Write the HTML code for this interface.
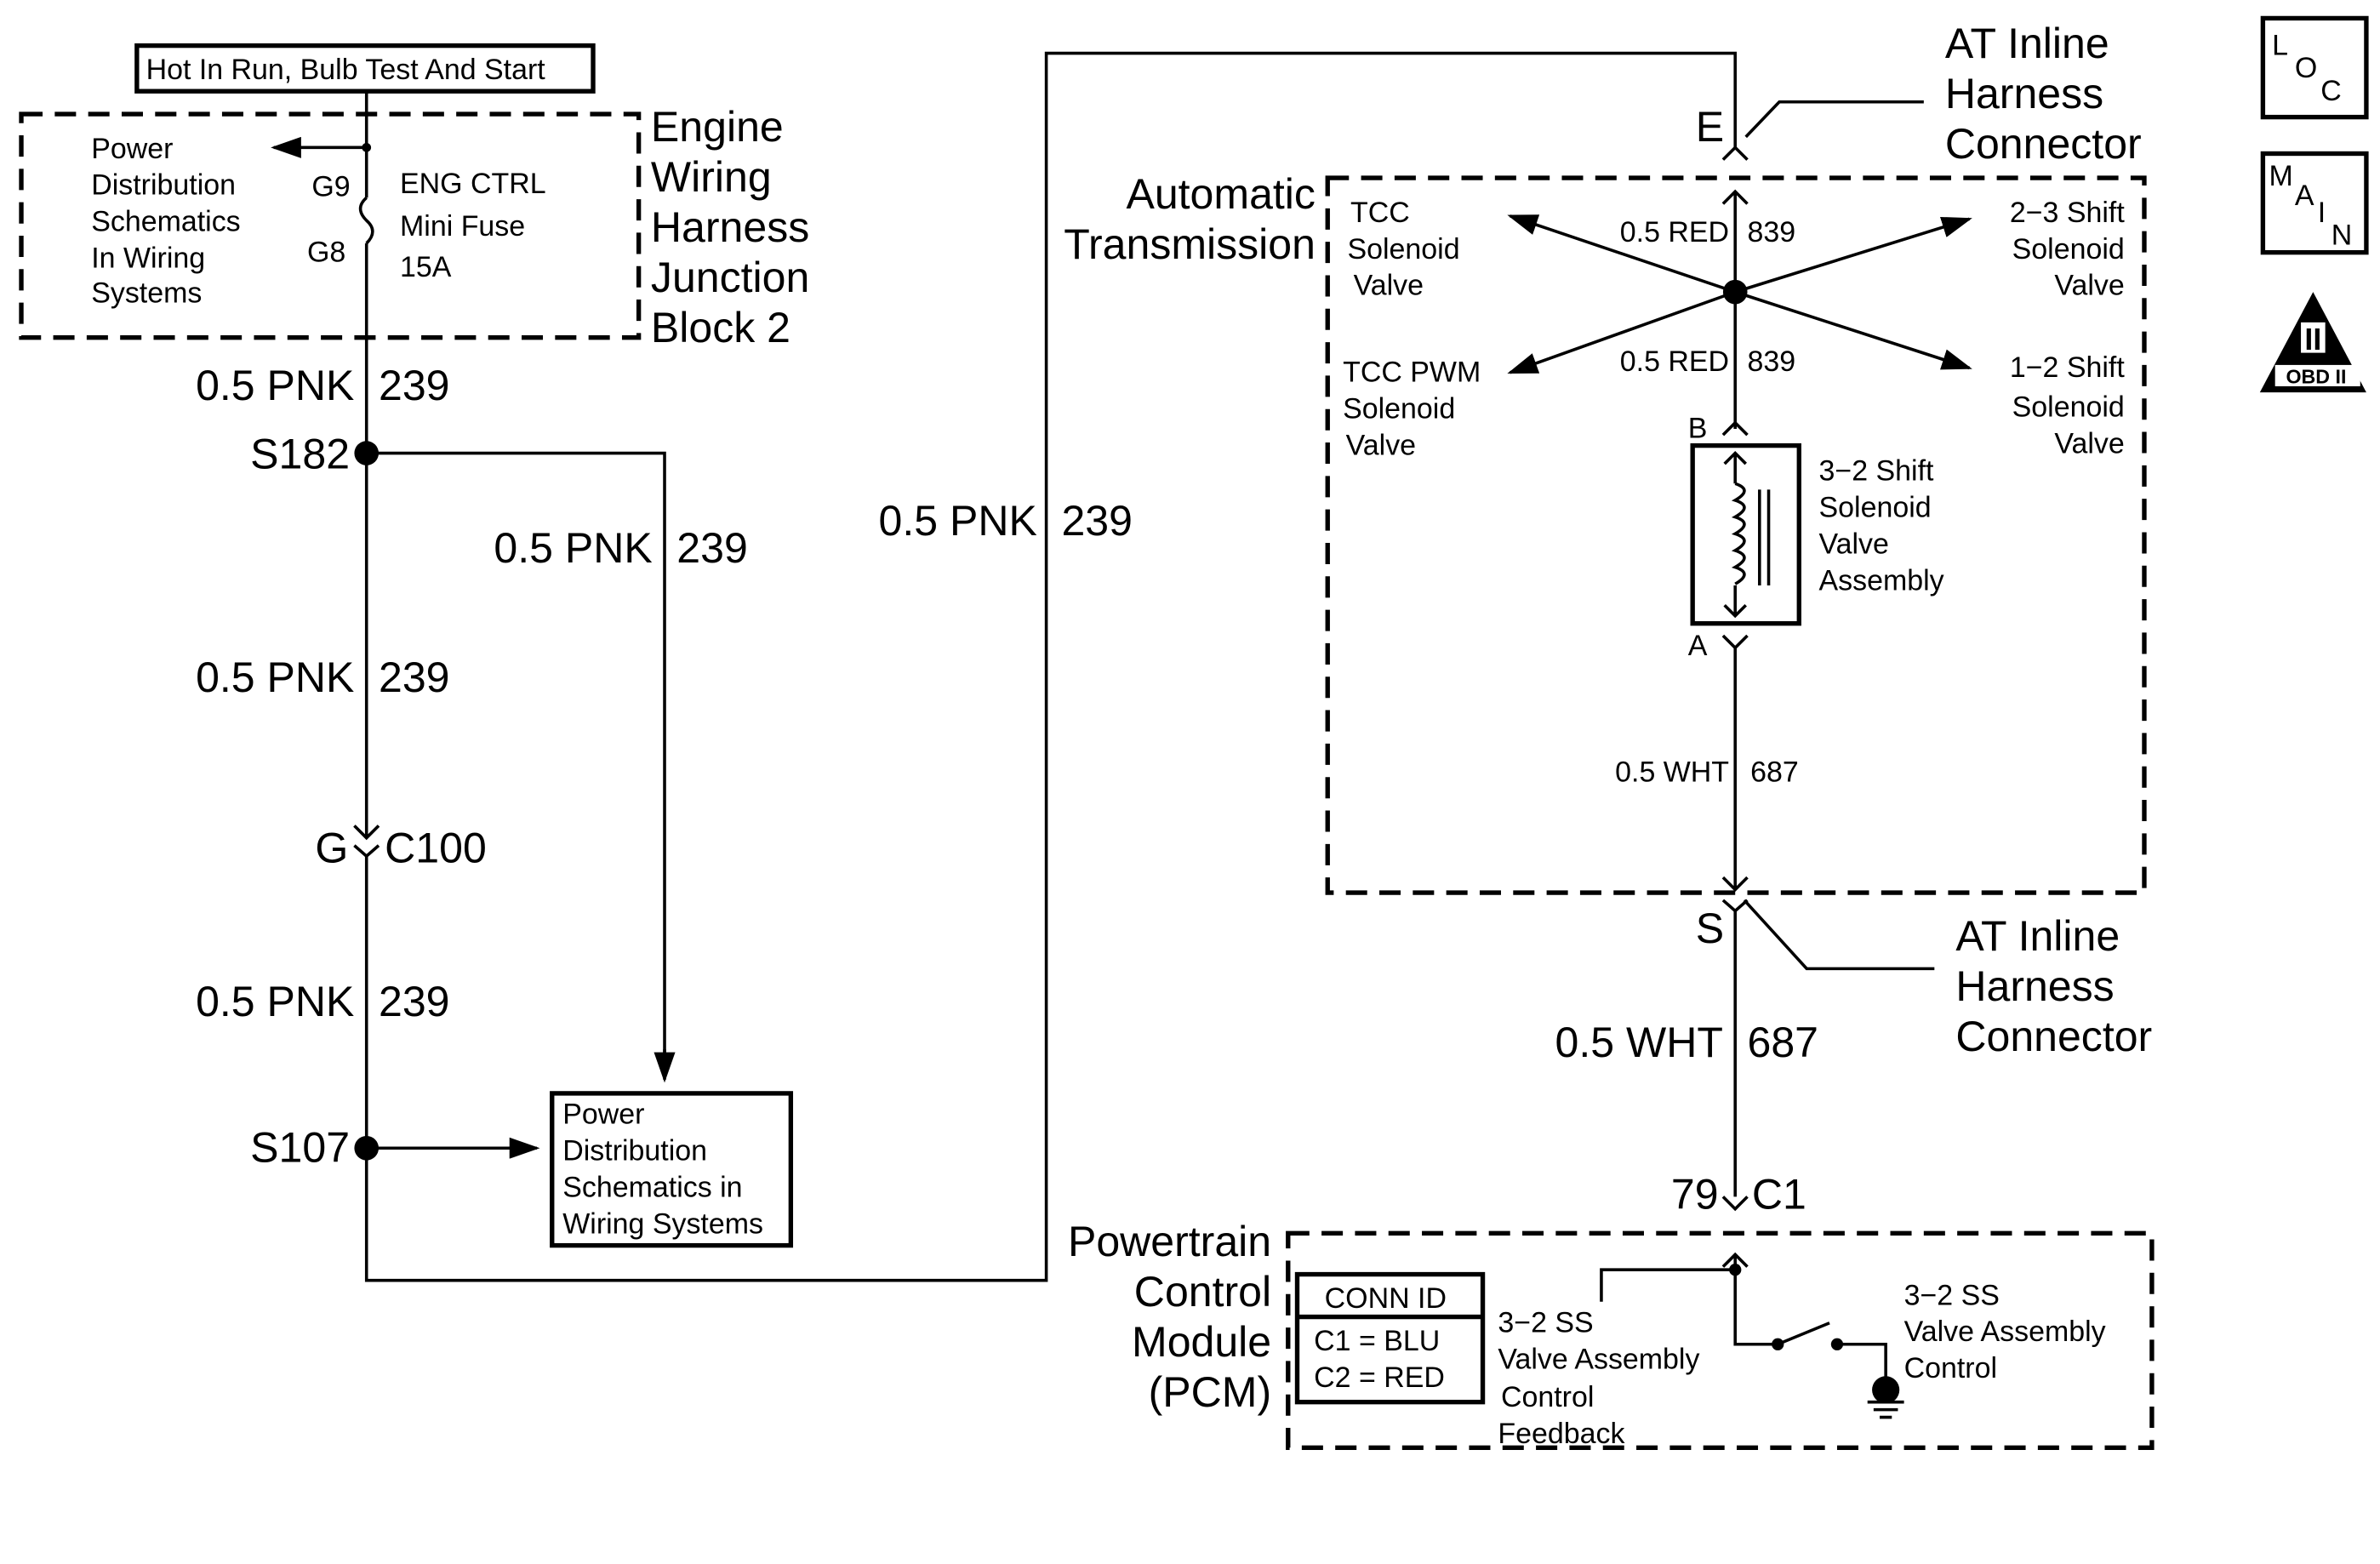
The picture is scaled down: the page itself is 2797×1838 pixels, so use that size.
<!DOCTYPE html>
<html><head><meta charset="utf-8"><style>
html,body{margin:0;padding:0;background:#fff;}
svg{display:block;}
text{font-family:"Liberation Sans",sans-serif;fill:#000;}
.b{font-size:28px;}
.s{font-size:19px;}
</style></head><body>
<svg width="2797" height="1838" viewBox="0 0 1565 1028.5" preserveAspectRatio="none" xmlns="http://www.w3.org/2000/svg">
<defs>
<marker id="ar2" markerWidth="20" markerHeight="14" refX="18" refY="7" orient="auto" markerUnits="userSpaceOnUse" viewBox="0 0 20 14">
<path d="M0,0 L20,7 L0,14 z" fill="#000"/></marker>
</defs>
<g stroke="#000" fill="none" stroke-width="2">
<rect x="90" y="30" width="300" height="30" stroke-width="3"/>
<rect x="14" y="75" width="406" height="147" stroke-width="3" stroke-dasharray="14,8"/>
<path d="M241,60 V130 M241,160 V551 M241,563 V842 H688 V35 H1141 V97"/>
<path d="M241,130 q-8,7 0,15 q8,7 0,15"/>
<line x1="241" y1="97" x2="180" y2="97" marker-end="url(#ar2)"/>
<path d="M241,298 H437 V700" />
<line x1="437" y1="690" x2="437" y2="710" marker-end="url(#ar2)"/>
<line x1="241" y1="755" x2="353" y2="755" marker-end="url(#ar2)"/>
<rect x="363" y="719" width="157" height="100" stroke-width="3"/>
<!-- C100 connector -->
<path d="M233,543 L241,551 L249,543 M233,556 L241,563 L249,556"/>
<!-- E connector -->
<path d="M1133,105 L1141,97 L1149,105 M1133,134 L1141,126 L1149,134 M1141,126 V282"/>
<path d="M1148,90 L1170,67 H1265"/>
<rect x="873" y="117" width="537" height="470" stroke-width="3" stroke-dasharray="14,8"/>
<line x1="1141" y1="192" x2="993" y2="142" marker-end="url(#ar2)"/>
<line x1="1141" y1="192" x2="1295" y2="144" marker-end="url(#ar2)"/>
<line x1="1141" y1="192" x2="993" y2="245" marker-end="url(#ar2)"/>
<line x1="1141" y1="192" x2="1295" y2="242" marker-end="url(#ar2)"/>
<path d="M1133,286 L1141,278 L1149,286"/>
<rect x="1113" y="293" width="70" height="117" stroke-width="3"/>
<path d="M1141,298 V318 M1141,385 V405 M1134,305 L1141,298 L1148,305 M1134,398 L1141,405 L1148,398"/>
<path d="M1141,318 q12,4 0,11 q12,4 0,11 q12,4 0,11 q12,4 0,11 q12,4 0,11 q12,4 0,11 "/>
<path d="M1157,322 V385 M1163,322 V385"/>
<path d="M1133,418 L1141,426 L1149,418 M1141,426 V585"/>
<!-- S connector -->
<path d="M1133,577 L1141,585 L1149,577 M1133,592 L1141,599 L1149,592 M1141,599 V787"/>
<path d="M1147,592 L1188,637 H1272"/>
<path d="M1133,787 L1141,795 L1149,787 M1133,833 L1141,825 L1149,833 M1141,825 V884 H1169"/>
<rect x="847" y="811" width="568" height="141" stroke-width="3" stroke-dasharray="14,8"/>
<path d="M1141,835 H1053 V856"/>
<rect x="853" y="838" width="122" height="84" stroke-width="3"/>
<line x1="853" y1="866" x2="975" y2="866" stroke-width="3"/>
<path d="M1169,884 L1203,870 M1208,884 H1240 V910"/>
<path d="M1228,922 H1252 M1232,927 H1248 M1236,932 H1244"/>
<rect x="1488" y="12" width="68" height="65" stroke-width="3"/>
<rect x="1488" y="101" width="68" height="65" stroke-width="3"/>
</g>
<g fill="#000">
<circle cx="241" cy="97" r="3"/>
<circle cx="241" cy="298" r="8"/>
<circle cx="241" cy="755" r="8"/>
<circle cx="1141" cy="192" r="8"/>
<circle cx="1141" cy="835" r="4"/>
<circle cx="1169" cy="884" r="4"/>
<circle cx="1208" cy="884" r="4"/>
<circle cx="1240" cy="914" r="9"/>
<path d="M1521,192 L1556,258 L1486,258 z"/>
</g>
<rect x="1513" y="212" width="16" height="20" fill="#fff"/>
<rect x="1496" y="240" width="56" height="14" fill="#fff"/>
<text x="1521" y="230" font-size="20" font-weight="bold" text-anchor="middle">II</text>
<text x="1523" y="252" font-size="13" font-weight="bold" text-anchor="middle">OBD II</text>
<text x="1494" y="36" font-size="19">L</text><text x="1509" y="51" font-size="19">O</text><text x="1526" y="66" font-size="19">C</text>
<text x="1492" y="122" font-size="19">M</text><text x="1509" y="135" font-size="19">A</text><text x="1524" y="146" font-size="19">I</text><text x="1533" y="161" font-size="19">N</text>

<text class="s" x="96" y="52">Hot In Run, Bulb Test And Start</text>
<text class="s" x="60" y="104">Power</text>
<text class="s" x="60" y="128">Distribution</text>
<text class="s" x="60" y="152">Schematics</text>
<text class="s" x="60" y="176">In Wiring</text>
<text class="s" x="60" y="199">Systems</text>
<text class="s" x="205" y="129">G9</text>
<text class="s" x="202" y="172">G8</text>
<text class="s" x="263" y="127">ENG CTRL</text>
<text class="s" x="263" y="155">Mini Fuse</text>
<text class="s" x="263" y="182">15A</text>
<text class="b" x="428" y="93">Engine</text>
<text class="b" x="428" y="126">Wiring</text>
<text class="b" x="428" y="159">Harness</text>
<text class="b" x="428" y="192">Junction</text>
<text class="b" x="428" y="225">Block 2</text>

<text class="b" x="233" y="263" text-anchor="end">0.5 PNK</text><text class="b" x="249" y="263">239</text>
<text class="b" x="230" y="308" text-anchor="end">S182</text>
<text class="b" x="429" y="370" text-anchor="end">0.5 PNK</text><text class="b" x="445" y="370">239</text>
<text class="b" x="233" y="455" text-anchor="end">0.5 PNK</text><text class="b" x="249" y="455">239</text>
<text class="b" x="229" y="567" text-anchor="end">G</text><text class="b" x="253" y="567">C100</text>
<text class="b" x="233" y="668" text-anchor="end">0.5 PNK</text><text class="b" x="249" y="668">239</text>
<text class="b" x="230" y="764" text-anchor="end">S107</text>
<text class="s" x="370" y="739">Power</text>
<text class="s" x="370" y="763">Distribution</text>
<text class="s" x="370" y="787">Schematics in</text>
<text class="s" x="370" y="811">Wiring Systems</text>
<text class="b" x="682" y="352" text-anchor="end">0.5 PNK</text><text class="b" x="698" y="352">239</text>

<text class="b" x="1115" y="93">E</text>
<text class="b" x="1279" y="38">AT Inline</text>
<text class="b" x="1279" y="71">Harness</text>
<text class="b" x="1279" y="104">Connector</text>
<text class="b" x="865" y="137" text-anchor="end">Automatic</text>
<text class="b" x="865" y="170" text-anchor="end">Transmission</text>
<text class="s" x="888" y="146">TCC</text>
<text class="s" x="886" y="170">Solenoid</text>
<text class="s" x="890" y="194">Valve</text>
<text class="s" x="1137" y="159" text-anchor="end">0.5 RED</text><text class="s" x="1149" y="159">839</text>
<text class="s" x="1397" y="146" text-anchor="end">2−3 Shift</text>
<text class="s" x="1397" y="170" text-anchor="end">Solenoid</text>
<text class="s" x="1397" y="194" text-anchor="end">Valve</text>
<text class="s" x="883" y="251">TCC PWM</text>
<text class="s" x="883" y="275">Solenoid</text>
<text class="s" x="885" y="299">Valve</text>
<text class="s" x="1137" y="244" text-anchor="end">0.5 RED</text><text class="s" x="1149" y="244">839</text>
<text class="s" x="1397" y="248" text-anchor="end">1−2 Shift</text>
<text class="s" x="1397" y="274" text-anchor="end">Solenoid</text>
<text class="s" x="1397" y="298" text-anchor="end">Valve</text>
<text class="s" x="1110" y="288">B</text>
<text class="s" x="1196" y="316">3−2 Shift</text>
<text class="s" x="1196" y="340">Solenoid</text>
<text class="s" x="1196" y="364">Valve</text>
<text class="s" x="1196" y="388">Assembly</text>
<text class="s" x="1110" y="431">A</text>
<text class="s" x="1137" y="514" text-anchor="end">0.5 WHT</text><text class="s" x="1151" y="514">687</text>
<text class="b" x="1115" y="620">S</text>
<text class="b" x="1286" y="625">AT Inline</text>
<text class="b" x="1286" y="658">Harness</text>
<text class="b" x="1286" y="691">Connector</text>
<text class="b" x="1133" y="695" text-anchor="end">0.5 WHT</text><text class="b" x="1149" y="695">687</text>
<text class="b" x="1130" y="795" text-anchor="end">79</text><text class="b" x="1152" y="795">C1</text>
<text class="b" x="836" y="826" text-anchor="end">Powertrain</text>
<text class="b" x="836" y="859" text-anchor="end">Control</text>
<text class="b" x="836" y="892" text-anchor="end">Module</text>
<text class="b" x="836" y="925" text-anchor="end">(PCM)</text>
<text class="s" x="871" y="860">CONN ID</text>
<text class="s" x="864" y="888">C1  =  BLU</text>
<text class="s" x="864" y="912">C2  =  RED</text>
<text class="s" x="985" y="876">3−2 SS</text>
<text class="s" x="985" y="900">Valve Assembly</text>
<text class="s" x="987" y="925">Control</text>
<text class="s" x="985" y="949">Feedback</text>
<text class="s" x="1252" y="858">3−2 SS</text>
<text class="s" x="1252" y="882">Valve Assembly</text>
<text class="s" x="1252" y="906">Control</text>
</svg>
</body></html>
